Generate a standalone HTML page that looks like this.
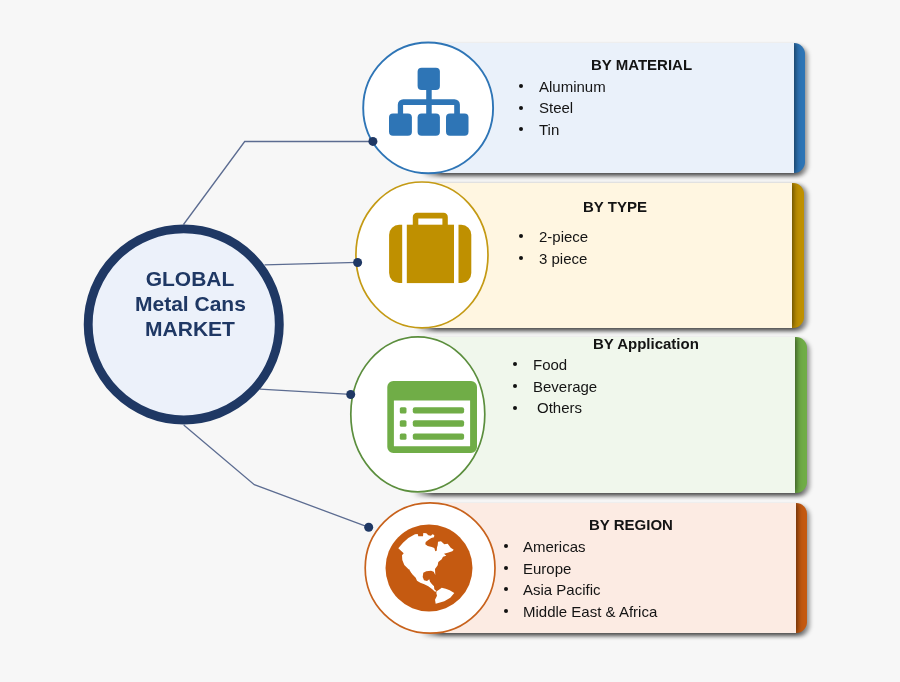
<!DOCTYPE html>
<html><head><meta charset="utf-8">
<style>
html,body{margin:0;padding:0;}
body{width:900px;height:682px;background:#f7f7f7;position:relative;overflow:hidden;font-family:"Liberation Sans",sans-serif;}
.card{position:absolute;border-radius:0 11px 11px 0;overflow:hidden;}
.shd{position:absolute;border-radius:0 11px 11px 0;background:linear-gradient(to right,rgba(0,0,0,0) 0,rgba(0,0,0,0.7) 20px,rgba(0,0,0,0.7) calc(100% - 14px),rgba(0,0,0,0.3) 100%);filter:blur(2.2px);}
.card .fill{position:absolute;left:0;top:0;bottom:0;box-shadow:1px 0 6px rgba(0,0,0,0.62);}
svg.ov{position:absolute;left:0;top:0;}
.t{position:absolute;white-space:nowrap;color:#141414;font-size:15px;line-height:17px;will-change:transform;}
.h{font-weight:bold;}
.b{position:absolute;width:4px;height:4px;border-radius:50%;background:#111;}
.ctr{position:absolute;will-change:transform;color:#1f3864;font-weight:bold;font-size:21px;line-height:24.8px;text-align:center;white-space:nowrap;}
</style></head><body>

<div class="shd" style="left:422px;top:45.7px;width:385.5px;height:130.4px;"></div>
<div class="shd" style="left:416px;top:185.2px;width:391.5px;height:145.9px;"></div>
<div class="shd" style="left:413px;top:340px;width:396.5px;height:155.5px;"></div>
<div class="shd" style="left:421px;top:505.5px;width:388.5px;height:130.3px;"></div>
<div class="card" style="left:414px;top:43px;width:391px;height:130.4px;background:#2e75b6;"><div class="fill" style="width:380px;background:#eaf1fa;"></div></div>
<div class="card" style="left:414px;top:182.5px;width:390px;height:145.9px;background:#bf9000;"><div class="fill" style="width:378px;background:#fff6e1;"></div></div>
<div class="card" style="left:414px;top:337.3px;width:393px;height:155.5px;background:#70ad47;"><div class="fill" style="width:381px;background:#f0f7ec;"></div></div>
<div class="card" style="left:414px;top:503px;width:393px;height:130.3px;background:#c55a11;"><div class="fill" style="width:382px;background:#fcebe3;"></div></div>

<svg class="ov" width="900" height="682" viewBox="0 0 900 682">
  <g fill="none" stroke="#5c6c91" stroke-width="1.3">
    <polyline points="183.5,224.5 244.7,141.5 373,141.5"/>
    <polyline points="264.5,264.9 357.8,262.3"/>
    <polyline points="259.8,389.2 350.8,394.4"/>
    <polyline points="183.7,424.9 254.3,484.7 368.3,527.1"/>
  </g>
  <circle cx="183.75" cy="324.4" r="95.55" fill="#ecf1fa" stroke="#1f3864" stroke-width="8.9"/>
  <ellipse cx="428.15" cy="107.9" rx="64.95" ry="65.4" fill="#fff" stroke="#2e75b6" stroke-width="1.9"/>
  <ellipse cx="421.95" cy="254.9" rx="66.05" ry="72.9" fill="#fff" stroke="#c49a14" stroke-width="1.7"/>
  <ellipse cx="417.8" cy="414.3" rx="67" ry="77.5" fill="#fff" stroke="#5b8e3d" stroke-width="1.7"/>
  <ellipse cx="430.1" cy="568" rx="64.9" ry="65.2" fill="#fff" stroke="#c8621c" stroke-width="1.7"/>
  <g fill="#1f3864">
    <circle cx="372.9" cy="141.4" r="4.5"/>
    <circle cx="357.6" cy="262.45" r="4.5"/>
    <circle cx="350.7" cy="394.5" r="4.5"/>
    <circle cx="368.7" cy="527.3" r="4.5"/>
  </g>
  <!-- hierarchy icon -->
  <g fill="#2e75b6">
    <rect x="417.6" y="67.7" width="22.3" height="22.3" rx="4"/>
    <rect x="426.2" y="88" width="5.5" height="27"/>
    <path d="M397.8,114 V104.7 a5.5,5.5 0 0 1 5.5,-5.5 H454.4 a5.5,5.5 0 0 1 5.5,5.5 V114 h-5.7 V104.9 H403.1 V114 Z"/>
    <rect x="389" y="113.5" width="22.9" height="22.3" rx="4"/>
    <rect x="417.6" y="113.5" width="22.3" height="22.3" rx="4"/>
    <rect x="446" y="113.5" width="22.5" height="22.3" rx="4"/>
  </g>
  <!-- suitcase icon -->
  <g fill="#bf9000">
    <path d="M412.8,225 V217 a4.2,4.2 0 0 1 4.2,-4.2 H443.6 a4.2,4.2 0 0 1 4.2,4.2 V225 H442.4 V218.6 H418.3 V225 Z"/>
    <path d="M402.2,224.7 V283.1 H399.1 a10,10 0 0 1 -10,-10 V234.7 a10,10 0 0 1 10,-10 Z"/>
    <rect x="406.8" y="224.7" width="47.2" height="58.4"/>
    <path d="M458.5,224.7 V283.1 H461.3 a10,10 0 0 0 10,-10 V234.7 a10,10 0 0 0 -10,-10 Z"/>
  </g>
  <!-- list window icon -->
  <g fill="#70ad47">
    <path fill-rule="evenodd" d="M393.3,381 H471 a6,6 0 0 1 6,6 V446.9 a6,6 0 0 1 -6,6 H393.3 a6,6 0 0 1 -6,-6 V387 a6,6 0 0 1 6,-6 Z M393.9,400.6 V446.3 H470.1 V400.6 Z"/>
    <rect x="399.8" y="407.3" width="6.7" height="6.2" rx="1.5"/>
    <rect x="399.8" y="420.2" width="6.7" height="6.5" rx="1.5"/>
    <rect x="399.8" y="433.4" width="6.7" height="6.3" rx="1.5"/>
    <rect x="412.8" y="407.3" width="51.3" height="6.2" rx="2"/>
    <rect x="412.8" y="420.2" width="51.3" height="6.5" rx="2"/>
    <rect x="412.8" y="433.4" width="51.3" height="6.3" rx="2"/>
  </g>
  <!-- globe icon -->
  <circle cx="429" cy="568" r="43.5" fill="#c55a11"/>
  <g fill="#fff">
    <path d="M398.3,548.3 L403,542.7 L408.3,538 L412.3,535.7 L415,534.3 L417.7,534 L418.3,536.3 L423,536.3 L423.3,533 L426.3,533.3 L428.3,535.3 L431,535.7 L432.3,534.3 L434.3,535 L434,537.3 L431.3,538 L428.3,540 L425.7,542 L425.3,544.3 L427.7,546 L431.7,547 L434.3,548 L435.3,551.3 L436.7,550.7 L437,547.3 L437.7,545.3 L438,541.7 L441,541.3 L444.3,544.3 L447.7,543.7 L450.7,547.7 L453.7,549.7 L452.3,551.3 L447.7,552.7 L444,553.7 L446.3,555.7 L443,556.7 L441.7,559.3 L438.3,562 L437.7,565.3 L435,569 L435.3,575 L433.7,571.7 L431,570.7 L426.3,571.3 L423.3,572.7 L422.7,577 L424,580.3 L427,581 L429.3,579.3 L430,581.7 L432,584.3 L434,586.3 L434.3,589.3 L436.7,591.3 L435,591.7 L432,589 L428.3,586.3 L424.3,584.3 L420.3,582.7 L417,580.7 L415.7,577.7 L412.3,574.3 L408.3,569 L404.3,565 L402.3,560 L402,555.3 L403.7,553.3 Z"/>
    <path d="M436.7,591.3 L439,589.7 L441.7,587.7 L445.7,588.7 L449.7,590.3 L454.3,593 L450.3,597.7 L444.3,601.3 L435.7,603.7 L435,599.7 L437,595.7 L436.3,593 Z"/>
  </g>
  <path d="M408.7,569 L411.7,575.7" stroke="#c55a11" stroke-width="0.7" fill="none"/>
</svg>

<div class="ctr" style="left:134.5px;top:266.5px;width:110px;">GLOBAL<br>Metal Cans<br>MARKET</div>

<div class="t h" style="left:590.5px;top:56px;">BY MATERIAL</div>
<div class="t" style="left:539px;top:78px;">Aluminum</div>
<div class="t" style="left:539px;top:99px;">Steel</div>
<div class="t" style="left:539px;top:121px;">Tin</div>
<div class="t h" style="left:583px;top:198px;">BY TYPE</div>
<div class="t" style="left:539px;top:228px;">2-piece</div>
<div class="t" style="left:539px;top:250px;">3 piece</div>
<div class="t h" style="left:592.5px;top:334.5px;">BY Application</div>
<div class="t" style="left:532.8px;top:356px;">Food</div>
<div class="t" style="left:532.8px;top:377.5px;">Beverage</div>
<div class="t" style="left:537px;top:399px;">Others</div>
<div class="t h" style="left:588.5px;top:515.5px;">BY REGION</div>
<div class="t" style="left:522.8px;top:538px;">Americas</div>
<div class="t" style="left:522.8px;top:559.5px;">Europe</div>
<div class="t" style="left:522.8px;top:581px;">Asia Pacific</div>
<div class="t" style="left:522.8px;top:603px;">Middle East &amp; Africa</div>
<div class="b" style="left:519px;top:84.4px;"></div>
<div class="b" style="left:519px;top:105.6px;"></div>
<div class="b" style="left:519px;top:127.19999999999999px;"></div>
<div class="b" style="left:519.2px;top:234.4px;"></div>
<div class="b" style="left:519.2px;top:256px;"></div>
<div class="b" style="left:513.2px;top:362.2px;"></div>
<div class="b" style="left:513.2px;top:383.7px;"></div>
<div class="b" style="left:513.2px;top:405.5px;"></div>
<div class="b" style="left:503.6px;top:544.4px;"></div>
<div class="b" style="left:503.6px;top:565.8px;"></div>
<div class="b" style="left:503.6px;top:587.4px;"></div>
<div class="b" style="left:503.6px;top:609px;"></div>

</body></html>
